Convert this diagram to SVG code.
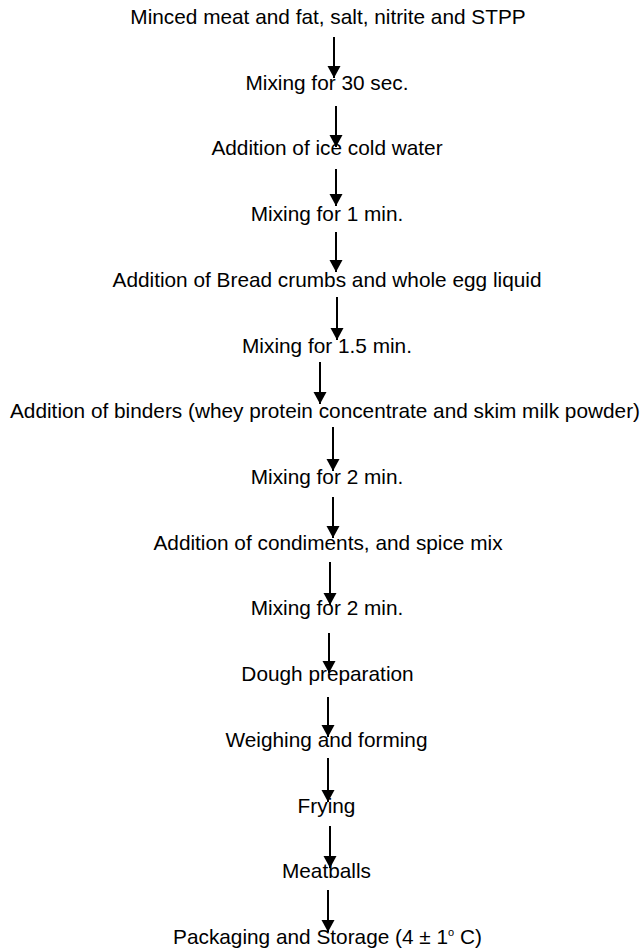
<svg xmlns="http://www.w3.org/2000/svg" width="643" height="951" viewBox="0 0 643 951">
<defs>
<style>
.t{font-family:"Liberation Sans",Arial,sans-serif;font-size:20.8px;fill:#000;text-anchor:middle}
.c{stroke:#000;stroke-width:2;fill:none}
</style>
<marker id="ah" markerUnits="userSpaceOnUse" markerWidth="14" markerHeight="13" viewBox="0 0 14 13" refX="7" refY="12" orient="auto-start-reverse">
<path d="M0.5,0 L13.5,0 L7,12 Z" fill="#000" transform="rotate(-90 7 6.5)"/>
</marker>
<marker id="hd" markerUnits="userSpaceOnUse" markerWidth="14" markerHeight="14" viewBox="-7 -12 14 14" refX="0" refY="0" orient="0">
<path d="M-6.5,-12 L6.5,-12 L0,0 Z" fill="#000"/>
</marker>
</defs>
<rect width="643" height="951" fill="#fff"/>
<g id="connectors">
<line class="c" x1="334" y1="37" x2="334" y2="78" marker-end="url(#hd)"/>
<line class="c" x1="336" y1="106" x2="336" y2="147" marker-end="url(#hd)"/>
<line class="c" x1="336" y1="169" x2="336" y2="206" marker-end="url(#hd)"/>
<line class="c" x1="336" y1="232" x2="336" y2="272" marker-end="url(#hd)"/>
<line class="c" x1="337" y1="297" x2="337" y2="340" marker-end="url(#hd)"/>
<line class="c" x1="320" y1="362" x2="320" y2="404" marker-end="url(#hd)"/>
<line class="c" x1="333" y1="427" x2="333" y2="471" marker-end="url(#hd)"/>
<line class="c" x1="333" y1="497" x2="333" y2="538" marker-end="url(#hd)"/>
<line class="c" x1="330" y1="562" x2="330" y2="605" marker-end="url(#hd)"/>
<line class="c" x1="329" y1="633" x2="329" y2="673" marker-end="url(#hd)"/>
<line class="c" x1="328" y1="697" x2="328" y2="737" marker-end="url(#hd)"/>
<line class="c" x1="328" y1="758" x2="328" y2="802" marker-end="url(#hd)"/>
<line class="c" x1="330" y1="826" x2="330" y2="868" marker-end="url(#hd)"/>
<line class="c" x1="328" y1="890" x2="328" y2="932" marker-end="url(#hd)"/>
</g>
<g id="n1"><text class="t" x="328" y="24">Minced meat and fat, salt, nitrite and STPP</text></g>
<g id="n2"><text class="t" x="327" y="90">Mixing for 30 sec.</text></g>
<g id="n3"><text class="t" x="327" y="155.4">Addition of ice cold water</text></g>
<g id="n4"><text class="t" x="327" y="221">Mixing for 1 min.</text></g>
<g id="n5"><text class="t" x="327" y="287">Addition of Bread crumbs and whole egg liquid</text></g>
<g id="n6"><text class="t" x="327" y="352.6">Mixing for 1.5 min.</text></g>
<g id="n7"><text class="t" x="325" y="418.3">Addition of binders (whey protein concentrate and skim milk powder)</text></g>
<g id="n8"><text class="t" x="327" y="484">Mixing for 2 min.</text></g>
<g id="n9"><text class="t" x="328" y="550">Addition of condiments, and spice mix</text></g>
<g id="n10"><text class="t" x="327" y="615.4">Mixing for 2 min.</text></g>
<g id="n11"><text class="t" x="327.5" y="681">Dough preparation</text></g>
<g id="n12"><text class="t" x="326.5" y="747">Weighing and forming</text></g>
<g id="n13"><text class="t" x="326.5" y="812.5">Frying</text></g>
<g id="n14"><text class="t" x="326.5" y="878.2">Meatballs</text></g>
<g id="n15"><text class="t" x="327.5" y="944">Packaging and Storage (4 ± 1<tspan font-size="11" dy="-8">o</tspan><tspan dy="8"> C)</tspan></text></g>
</svg>
